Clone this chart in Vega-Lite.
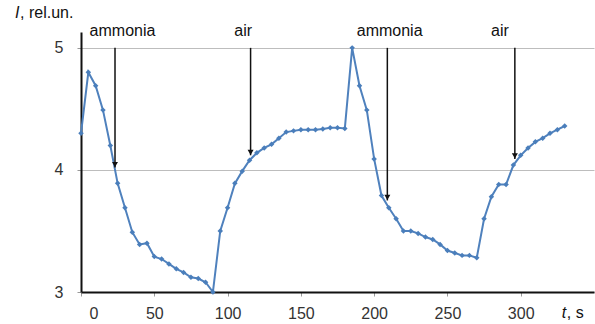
{
  "$schema": "https://vega.github.io/schema/vega-lite/v6.json",
  "width": 513,
  "height": 260,
  "autosize": {"type": "none"},
  "padding": {"left": 81, "top": 32, "right": 1, "bottom": 32},
  "config": {"view": {"stroke": null}, "font": "Liberation Sans", "background": "#ffffff"},
  "datasets": {
    "series": [
      {"t": 0, "I": 4.30}, {"t": 5, "I": 4.80}, {"t": 10, "I": 4.69}, {"t": 15, "I": 4.49},
      {"t": 20, "I": 4.20}, {"t": 25, "I": 3.89}, {"t": 30, "I": 3.69}, {"t": 35, "I": 3.49},
      {"t": 40, "I": 3.39}, {"t": 45, "I": 3.40}, {"t": 50, "I": 3.29}, {"t": 55, "I": 3.27},
      {"t": 60, "I": 3.23}, {"t": 65, "I": 3.19}, {"t": 70, "I": 3.16}, {"t": 75, "I": 3.12},
      {"t": 80, "I": 3.11}, {"t": 85, "I": 3.08}, {"t": 90, "I": 3.00}, {"t": 95, "I": 3.50},
      {"t": 100, "I": 3.69}, {"t": 105, "I": 3.89}, {"t": 110, "I": 3.99}, {"t": 115, "I": 4.08},
      {"t": 120, "I": 4.14}, {"t": 125, "I": 4.18}, {"t": 130, "I": 4.21}, {"t": 135, "I": 4.26},
      {"t": 140, "I": 4.31}, {"t": 145, "I": 4.32}, {"t": 150, "I": 4.33}, {"t": 155, "I": 4.33},
      {"t": 160, "I": 4.33}, {"t": 165, "I": 4.335}, {"t": 170, "I": 4.345}, {"t": 175, "I": 4.345},
      {"t": 180, "I": 4.34}, {"t": 185, "I": 5.00}, {"t": 190, "I": 4.69}, {"t": 195, "I": 4.49},
      {"t": 200, "I": 4.09}, {"t": 205, "I": 3.79}, {"t": 210, "I": 3.69}, {"t": 215, "I": 3.60},
      {"t": 220, "I": 3.50}, {"t": 225, "I": 3.50}, {"t": 230, "I": 3.48}, {"t": 235, "I": 3.45},
      {"t": 240, "I": 3.43}, {"t": 245, "I": 3.39}, {"t": 250, "I": 3.34}, {"t": 255, "I": 3.32},
      {"t": 260, "I": 3.30}, {"t": 265, "I": 3.30}, {"t": 270, "I": 3.28}, {"t": 275, "I": 3.60},
      {"t": 280, "I": 3.78}, {"t": 285, "I": 3.88}, {"t": 290, "I": 3.88}, {"t": 295, "I": 4.04},
      {"t": 300, "I": 4.12}, {"t": 305, "I": 4.18}, {"t": 310, "I": 4.23}, {"t": 315, "I": 4.26},
      {"t": 320, "I": 4.30}, {"t": 325, "I": 4.33}, {"t": 330, "I": 4.36}
    ],
    "arrows": [
      {"t": 23.2, "I": 5, "I2": 4.02},
      {"t": 115.7, "I": 5, "I2": 4.12},
      {"t": 209, "I": 5, "I2": 3.75},
      {"t": 296, "I": 5, "I2": 4.09}
    ],
    "notes": [
      {"t": 28.3, "I": 5.097, "label": "ammonia"},
      {"t": 110.7, "I": 5.097, "label": "air"},
      {"t": 210.6, "I": 5.097, "label": "ammonia"},
      {"t": 285.8, "I": 5.097, "label": "air"}
    ],
    "titleItalic": [
      {"t": -45, "I": 5.245, "label": "I"},
      {"t": 328, "I": 2.787, "label": "t"}
    ],
    "titleRest": [
      {"t": -45, "I": 5.245, "label": ", rel.un."},
      {"t": 328, "I": 2.787, "label": ", s"}
    ]
  },
  "encoding": {
    "x": {
      "field": "t", "type": "quantitative",
      "scale": {"domain": [0, 350], "nice": false, "zero": false},
      "axis": {
        "values": [0, 50, 100, 150, 200, 250, 300],
        "title": null, "grid": false,
        "domainColor": "#111111", "domainWidth": 2,
        "tickColor": "#999999", "tickSize": 4,
        "labelFontSize": 16, "labelColor": "#333333", "labelPadding": 9,
        "labelFlush": true, "labelFlushOffset": -8
      }
    },
    "y": {
      "field": "I", "type": "quantitative",
      "scale": {"domain": [3, 5.13], "nice": false, "zero": false},
      "axis": {
        "values": [3, 4, 5],
        "title": null, "grid": true, "gridColor": "#bdbdbd", "gridWidth": 1,
        "domainColor": "#111111", "domainWidth": 2,
        "tickColor": "#999999", "tickSize": 4,
        "labelFontSize": 16, "labelColor": "#333333", "labelPadding": 14
      }
    }
  },
  "layer": [
    {
      "data": {"name": "series"},
      "mark": {"type": "line", "color": "#4F81BD", "strokeWidth": 2,
               "point": {"filled": true, "shape": "diamond", "size": 30, "color": "#4A7EBB"}}
    },
    {
      "data": {"name": "arrows"},
      "mark": {"type": "rule", "color": "#111111", "strokeWidth": 1.5},
      "encoding": {"y2": {"field": "I2"}}
    },
    {
      "data": {"name": "arrows"},
      "mark": {"type": "point", "shape": "triangle-down", "filled": true, "color": "#111111", "size": 36, "opacity": 1, "yOffset": -3},
      "encoding": {"y": {"field": "I2", "type": "quantitative"}}
    },
    {
      "data": {"name": "notes"},
      "mark": {"type": "text", "fontSize": 16, "align": "center", "baseline": "alphabetic", "color": "#111111"},
      "encoding": {"text": {"field": "label"}}
    },
    {
      "data": {"name": "titleItalic"},
      "mark": {"type": "text", "fontSize": 16, "fontStyle": "italic", "align": "left", "baseline": "alphabetic", "color": "#111111"},
      "encoding": {"text": {"field": "label"}}
    },
    {
      "data": {"name": "titleRest"},
      "mark": {"type": "text", "fontSize": 16, "align": "left", "baseline": "alphabetic", "color": "#111111", "dx": 5},
      "encoding": {"text": {"field": "label"}}
    }
  ]
}
